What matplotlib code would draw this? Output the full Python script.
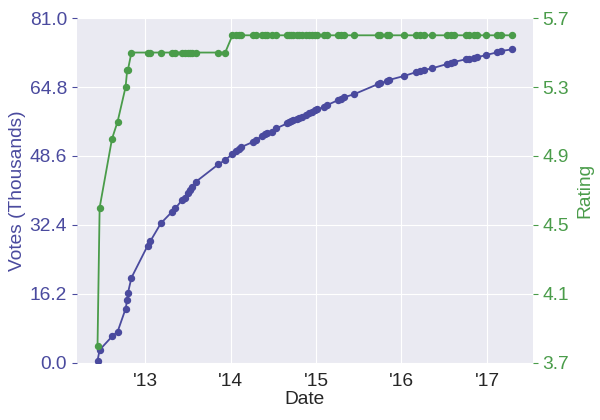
import matplotlib
matplotlib.use("Agg")
import matplotlib.pyplot as plt
import matplotlib.dates as mdates
import numpy as np
import pandas as pd
import seaborn as sns

dates = [
    "2012-06-10", "2012-06-19", "2012-08-11", "2012-09-04", "2012-10-08", "2012-10-15",
    "2012-10-18", "2012-11-02", "2013-01-10", "2013-01-22", "2013-03-08", "2013-04-23",
    "2013-05-09", "2013-06-07", "2013-06-17", "2013-07-01", "2013-07-12", "2013-07-20",
    "2013-08-06", "2013-11-09", "2013-12-08", "2014-01-08", "2014-01-23", "2014-02-03",
    "2014-02-13", "2014-04-08", "2014-04-18", "2014-05-16", "2014-05-27", "2014-06-04",
    "2014-06-26", "2014-07-15", "2014-08-31", "2014-09-08", "2014-09-15", "2014-09-22",
    "2014-10-10", "2014-10-20", "2014-11-03", "2014-11-17", "2014-12-01", "2014-12-15",
    "2014-12-27", "2015-01-06", "2015-02-04", "2015-02-15", "2015-04-06", "2015-04-16",
    "2015-04-30", "2015-06-12", "2015-09-23", "2015-10-03", "2015-11-01", "2015-11-08",
    "2016-01-11", "2016-03-01", "2016-03-22", "2016-04-06", "2016-05-11", "2016-07-14",
    "2016-07-29", "2016-08-12", "2016-10-01", "2016-10-16", "2016-11-06", "2016-11-20",
    "2016-12-26", "2017-02-14", "2017-02-28", "2017-04-18",
]

votes = [
    0.54, 3.05, 6.2, 7.35, 12.7, 14.8, 16.4, 20.0, 27.5, 28.6,
    32.8, 35.4, 36.3, 38.3, 38.8, 40.0, 40.6, 41.2, 42.6, 46.65,
    47.66, 49.07, 49.85, 50.25, 50.65, 51.96, 52.36, 53.3, 53.7, 53.93,
    54.3, 55.1, 56.28, 56.59, 56.82, 57.06, 57.29, 57.6, 57.83, 58.23,
    58.63, 59.0, 59.4, 59.64, 60.04, 60.5, 61.75, 61.99, 62.39, 63.1,
    65.5, 65.67, 66.2, 66.45, 67.38, 68.25, 68.56, 68.8, 69.2, 70.2,
    70.45, 70.68, 71.3, 71.45, 71.6, 71.78, 72.3, 72.95, 73.26, 73.64,
]

ratings = [
    3.8, 4.6, 5.0, 5.1, 5.3, 5.4, 5.4, 5.5, 5.5, 5.5,
    5.5, 5.5, 5.5, 5.5, 5.5, 5.5, 5.5, 5.5, 5.5, 5.5,
    5.5, 5.6, 5.6, 5.6, 5.6, 5.6, 5.6, 5.6, 5.6, 5.6,
    5.6, 5.6, 5.6, 5.6, 5.6, 5.6, 5.6, 5.6, 5.6, 5.6,
    5.6, 5.6, 5.6, 5.6, 5.6, 5.6, 5.6, 5.6, 5.6, 5.6,
    5.6, 5.6, 5.6, 5.6, 5.6, 5.6, 5.6, 5.6, 5.6, 5.6,
    5.6, 5.6, 5.6, 5.6, 5.6, 5.6, 5.6, 5.6, 5.6, 5.6,
]

sns.set_style("darkgrid")
plt.rcParams['font.family'] = ['Liberation Sans', 'DejaVu Sans']

blue = '#4a4a9e'
green = '#4a9c4a'

d = pd.to_datetime(dates)

fig = plt.figure(figsize=(6, 4.2), dpi=100)
ax = fig.add_axes([0.128, 0.136, 0.76, 0.821])
ax2 = ax.twinx()

ax.plot(d, votes, '-o', color=blue, markersize=4.3, linewidth=1.3)
ax2.plot(d, ratings, '-o', color=green, markersize=4.3, linewidth=1.3)

vmax = 81.0
ax.set_ylim(0, vmax)
ax.set_yticks(np.linspace(0, vmax, 6))
ax.yaxis.set_major_formatter(matplotlib.ticker.FormatStrFormatter('%.1f'))
ax2.set_ylim(3.7, 5.7)
ax2.set_yticks(np.linspace(3.7, 5.7, 6))
ax2.yaxis.set_major_formatter(matplotlib.ticker.FormatStrFormatter('%.1f'))
ax2.grid(False)

ax.xaxis.set_major_locator(mdates.YearLocator())
ax.xaxis.set_major_formatter(mdates.DateFormatter("'%y"))

fs = 13.8
ax.tick_params(axis='y', colors=blue, labelsize=fs)
ax2.tick_params(axis='y', colors=green, labelsize=fs)
ax.tick_params(axis='x', labelsize=fs, colors='#262626')

ax.set_ylabel('Votes (Thousands)', color=blue, fontsize=fs, labelpad=3)
ax2.set_ylabel('Rating', color=green, fontsize=fs, labelpad=5)
ax.set_xlabel('Date', fontsize=fs, color='#262626', labelpad=1)

for a in (ax, ax2):
    for s in a.spines.values():
        s.set_visible(False)

fig.savefig('out.png', dpi=100)
